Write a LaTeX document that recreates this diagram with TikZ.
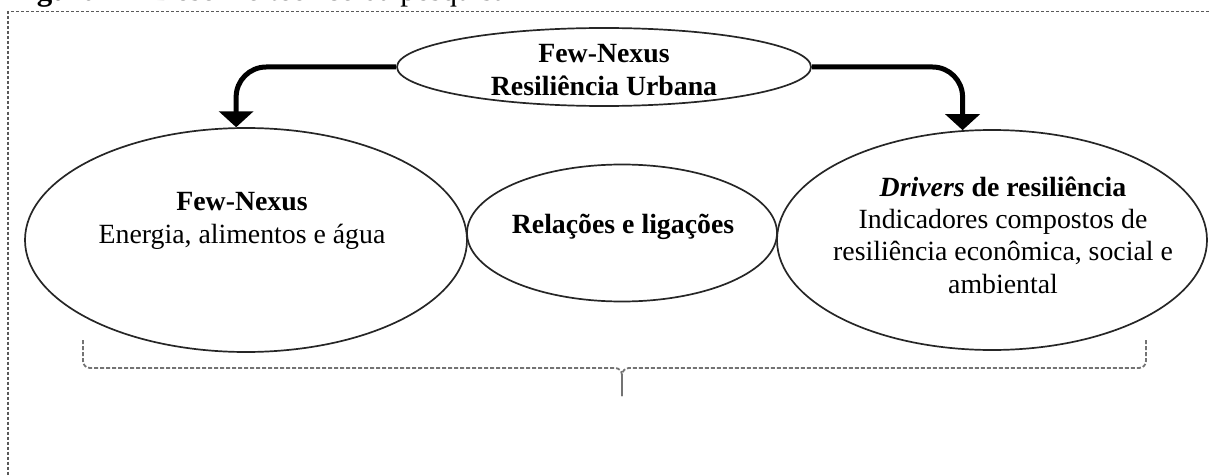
\documentclass[tikz,border=0pt]{standalone}
\usepackage{fontspec}
\setmainfont{Liberation Serif}
\usetikzlibrary{shapes,arrows.meta}
\pgfdeclarelayer{edgelayer}
\pgfdeclarelayer{nodelayer}
\pgfsetlayers{edgelayer,nodelayer,main}
\tikzset{font=\fontsize{13.9}{16.2}\selectfont}
\tikzstyle{none}=[inner sep=0pt]
\tikzstyle{txt}=[inner sep=0pt,align=center]
\tikzstyle{oval}=[ellipse,draw=black!85,line width=0.85pt,inner sep=0pt]
\tikzstyle{flow}=[line width=2.5pt,rounded corners=15pt,-{Triangle[width=17pt,length=8pt]}]
\tikzstyle{frame}=[draw=black!65,line width=0.6pt,dash pattern=on 1.5pt off 1pt]
\tikzstyle{brace}=[draw=black!55,line width=0.9pt,dash pattern=on 2pt off 1pt,rounded corners=3.5pt]

\begin{document}
\begin{tikzpicture}[x=0.5pt,y=-0.5pt]
	\useasboundingbox (0,0) rectangle (1209,476);
	\clip (0,0) rectangle (1209,476);
	\draw[style=frame] (8,11.5) rectangle (1230,500);
	\node [style=none, anchor=base west, font=\fontsize{15.5}{18}\selectfont] (20) at (9,0.3) {\textbf{Figura 1} – Desenho teórico da pesquisa};
	\begin{pgfonlayer}{nodelayer}
		\node [style=oval, minimum width=207pt, minimum height=39pt] (0) at (604, 67) {};
		\node [style=oval, minimum width=221pt, minimum height=112pt] (1) at (246, 240) {};
		\node [style=oval, minimum width=155pt, minimum height=68.5pt] (2) at (622, 233) {};
		\node [style=oval, minimum width=215pt, minimum height=110pt] (3) at (992, 240) {};
		\node [style=txt, font=\fontsize{13.9}{16.2}\selectfont\bfseries] (4) at (604, 70) {Few-Nexus\\Resiliência Urbana};
		\node [style=txt] (5) at (242, 221) {\textbf{Few-Nexus}\\Energia, alimentos e água};
		\node [style=txt, font=\fontsize{13.9}{16.2}\selectfont\bfseries] (6) at (623, 226.5) {Relações e ligações};
		\node [style=txt] (7) at (1003, 235) {\textbf{\textit{Drivers} de resiliência}\\Indicadores compostos de\\resiliência econômica, social e\\ambiental};
		\node [style=none] (10) at (83, 340) {};
		\node [style=none] (11) at (622, 368) {};
		\node [style=none] (12) at (622, 396) {};
		\node [style=none] (13) at (1146, 340) {};
	\end{pgfonlayer}
	\begin{pgfonlayer}{edgelayer}
		\draw [style=flow] (0.west) -| (1.95);
		\draw [style=flow] (0.east) -| (3.105);
		\draw [style=brace] (10.center) |- (11.center) -- (12.center);
		\draw [style=brace] (13.center) |- (11.center) -- (12.center);
	\end{pgfonlayer}
\end{tikzpicture}
\end{document}
